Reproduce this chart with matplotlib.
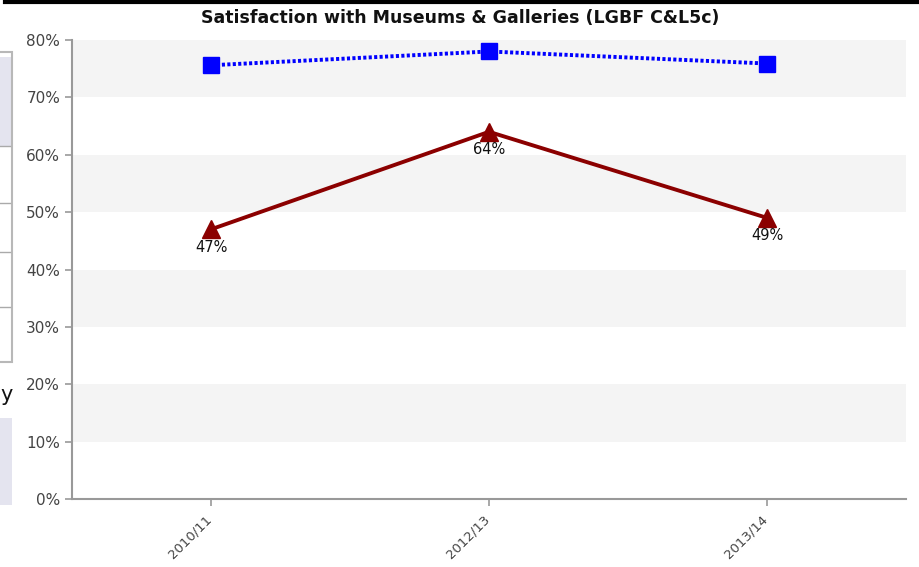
import matplotlib
matplotlib.use("Agg")
import matplotlib.pyplot as plt
import matplotlib.transforms as mtransforms
from matplotlib.patches import Rectangle
from matplotlib.lines import Line2D

categories = ["2010/11", "2012/13", "2013/14"]
scotland = [75.6, 78.0, 75.9]
council = [47, 64, 49]
council_labels = ["47%", "64%", "49%"]
yticks = [0, 10, 20, 30, 40, 50, 60, 70, 80]
ytick_labels = ["0%", "10%", "20%", "30%", "40%", "50%", "60%", "70%", "80%"]

W, H = 919, 567
fig = plt.figure(figsize=(W / 100, H / 100), dpi=100)
fig.patch.set_facecolor("white")

ax = fig.add_axes([72 / W, 1 - 499 / H, (906 - 72) / W, (499 - 40) / H])
x = list(range(len(categories)))
ax.set_xlim(-0.5, len(categories) - 0.5)
ax.set_ylim(0, 80)

# alternating bands
for lo in range(10, 80, 20):
    ax.axhspan(lo, lo + 10, color="#f4f4f4", zorder=0, lw=0)

ax.plot(x, scotland, color="#0000ff", lw=2.8, ls=(0, (0.8, 0.6)), marker="s",
        markersize=11, zorder=3)
ax.plot(x, council, color="#8b0000", lw=2.8, marker="^", markersize=13, zorder=3)
for xi, v, lab in zip(x, council, council_labels):
    ax.annotate(lab, (xi, v), xytext=(0, -13), textcoords="offset points",
                ha="center", va="center", fontsize=10.5, color="#111111", zorder=4)

for s in ["top", "right"]:
    ax.spines[s].set_visible(False)
for s in ["left", "bottom"]:
    ax.spines[s].set_color("#999999")
    ax.spines[s].set_linewidth(1.5)

ax.set_yticks(yticks)
ax.set_yticklabels(ytick_labels, fontsize=11, color="#444444")
ax.set_xticks(x)
ax.set_xticklabels(categories, fontsize=9.5, color="#444444", rotation=45,
                   ha="right", rotation_mode="anchor")
ax.tick_params(axis="both", color="#999999", length=5, width=1.2)
ax.tick_params(axis="x", pad=5)
shift = mtransforms.ScaledTranslation(-6 / 100, 0, fig.dpi_scale_trans)
for lbl in ax.get_xticklabels():
    lbl.set_transform(lbl.get_transform() + shift)

fig.text(460 / W, 1 - 18 / H, "Satisfaction with Museums & Galleries (LGBF C&L5c)",
         ha="center", va="center", fontsize=12.5, fontweight="bold", color="#111111")

# screenshot artifacts
fig.add_artist(Line2D([5 / W, 1], [1 - 1.5 / H, 1 - 1.5 / H], color="black", lw=3))
fig.add_artist(Rectangle((0, 1 - 146 / H), 11 / W, (146 - 57) / H,
                         facecolor="#e4e4ef", edgecolor="none"))
fig.add_artist(Rectangle((-0.01, 1 - 362 / H), 12 / W + 0.01, (362 - 52) / H,
                         facecolor="none", edgecolor="#b8b8b8", lw=1.5))
for yy in [146, 203, 252, 307]:
    fig.add_artist(Line2D([0, 10 / W], [1 - yy / H, 1 - yy / H], color="#aaaaaa", lw=1))
fig.text(0, 1 - 395 / H, "y", fontsize=15, ha="left", va="center", color="#111111")
fig.add_artist(Rectangle((0, 1 - 505 / H), 12 / W, (505 - 418) / H,
                         facecolor="#e4e4ef", edgecolor="none"))

fig.savefig("out.png", dpi=100)
